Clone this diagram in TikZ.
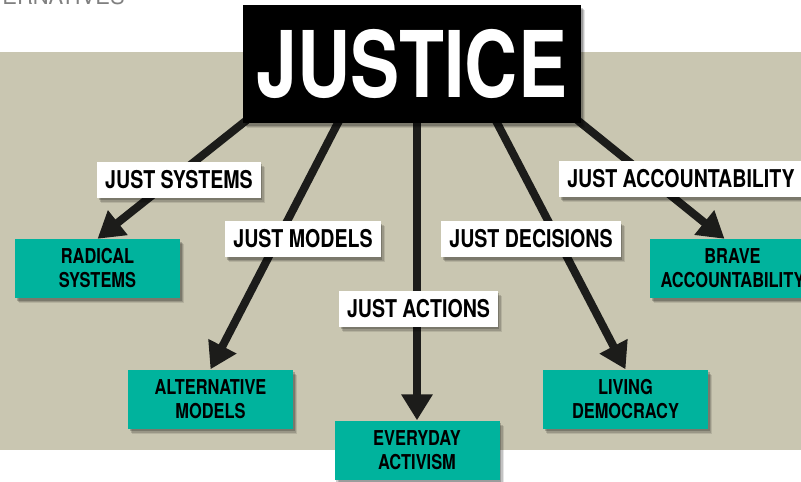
\documentclass[tikz,border=0pt]{standalone}
\usepackage{fontspec}
\newfontfamily\condfont{TeX Gyre Heros}[FakeStretch=0.8]
\newfontfamily\plainfont{TeX Gyre Heros}
\usepackage{xcolor}
\usepackage{tikz}
\usetikzlibrary{arrows.meta, shadows, backgrounds}
\definecolor{sand}{HTML}{C9C6B1}
\definecolor{jade}{HTML}{00B39D}
\definecolor{ink}{HTML}{1C1C1A}
\pgfdeclarelayer{links}
\pgfsetlayers{background,links,main}

\begin{document}
\begin{tikzpicture}[x=1pt, y=-1pt,
    softshadow/.style={drop shadow={shadow xshift=4pt, shadow yshift=-5pt, opacity=0.1, fill=black},
        drop shadow={shadow xshift=3pt, shadow yshift=-4pt, opacity=0.15, fill=black},
        drop shadow={shadow xshift=1.5pt, shadow yshift=-2.5pt, opacity=0.2, fill=black}},
    title/.style={fill=black, text=white, minimum width=338pt, minimum height=118pt, inner sep=0pt, font=\condfont\bfseries\fontsize{92}{92}\selectfont, softshadow},
    idea/.style={fill=jade, text=black, minimum width=165pt, minimum height=59pt, inner sep=0pt, align=center, font=\condfont\bfseries\fontsize{20.5}{24}\selectfont, softshadow},
    tag/.style={fill=white, text=black, minimum height=36pt, inner xsep=8pt, inner ysep=0pt, font=\condfont\bfseries\fontsize{24.5}{24.5}\selectfont, softshadow},
    link/.style={draw=ink, line width=8pt, -{Triangle[width=30pt, length=26pt]}, shorten <=-8pt}]
    \useasboundingbox (0,0) rectangle (801,482);

    % Backdrop
    \begin{pgfonlayer}{background}
    \fill[sand] (0,52) rectangle (801,450);
    \node[anchor=base east, text=gray, inner sep=0pt, font=\plainfont\fontsize{22}{22}\selectfont] (heading) at (125,4) {ALTERNATIVES};
    \end{pgfonlayer}

    % Hub
    \node[title] (justice) at (412,64) {JUSTICE};

    % Outcomes
    \node[idea] (radical) at (97.5,268.5) {RADICAL\\SYSTEMS};
    \node[idea] (alternative) at (210.5,399) {ALTERNATIVE\\MODELS};
    \node[idea] (everyday) at (417,450) {EVERYDAY\\ACTIVISM};
    \node[idea] (living) at (625.5,399) {LIVING\\DEMOCRACY};
    \node[idea] (brave) at (732.5,268.5) {BRAVE\\ACCOUNTABILITY};

    % Labels
    \node[tag] (systems) at (179,179.5) {JUST SYSTEMS};
    \node[tag] (models) at (303,239) {JUST MODELS};
    \node[tag] (actions) at (418.5,308.5) {JUST ACTIONS};
    \node[tag] (decisions) at (531,239) {JUST DECISIONS};
    \node[tag] (accountability) at (681,179) {JUST ACCOUNTABILITY};

    % Links
    \begin{pgfonlayer}{links}
    \draw[link] (justice.south west) -- (radical.north);
    \draw[link] ([xshift=95pt]justice.south west) -- (alternative.north);
    \draw[link] (justice.south -| everyday.north) -- (everyday.north);
    \draw[link] ([xshift=-84pt]justice.south east) -- (living.north);
    \draw[link] (justice.south east) -- ([xshift=-8pt]brave.north);
    \end{pgfonlayer}
\end{tikzpicture}
\end{document}
